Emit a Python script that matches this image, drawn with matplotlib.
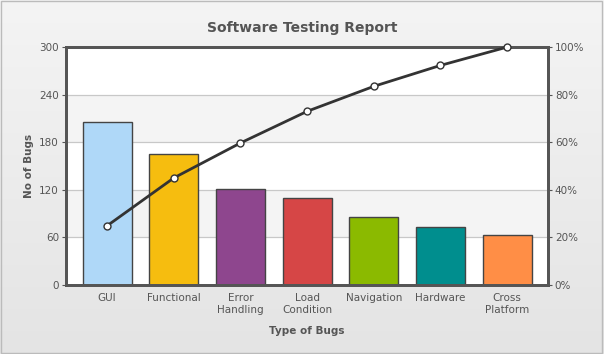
import numpy as np
import matplotlib
matplotlib.use("Agg")
import matplotlib.pyplot as plt
from matplotlib.patches import Rectangle

# Datos del gráfico
categorias = ["GUI", "Functional", "Error\nHandling", "Load\nCondition",
              "Navigation", "Hardware", "Cross\nPlatform"]
bugs = [205, 165, 121, 110, 86, 73, 63]
acumulado_pct = [24.9, 45.0, 59.7, 73.0, 83.5, 92.3, 100.0]
colores = ["#afd8f8", "#f6bd0f", "#8e468e", "#d64646",
           "#8bba00", "#008e8e", "#ff8e46"]
ticks_izq = [0, 60, 120, 180, 240, 300]
ticks_der = [0, 20, 40, 60, 80, 100]

texto = "#555555"
plt.rcParams["font.family"] = "DejaVu Sans"

fig = plt.figure(figsize=(6.04, 3.54), dpi=100)

# fondo con degradado gris
bg = fig.add_axes([0, 0, 1, 1], zorder=-10)
grad = np.linspace(0, 1, 256).reshape(-1, 1)
bg.imshow(grad, aspect="auto", cmap=matplotlib.colors.LinearSegmentedColormap.from_list(
    "g", ["#f4f4f4", "#e4e4e4"]), extent=[0, 1, 0, 1], origin="upper")
bg.add_patch(Rectangle((0.002, 0.003), 0.995, 0.993, fill=False,
                       edgecolor="#bbbbbb", linewidth=1, transform=bg.transAxes))
bg.set_axis_off()

ax = fig.add_axes([0.109, 0.195, 0.798, 0.672])
ax.set_facecolor("white")
x = np.arange(len(categorias))

# bandas alternas
for i in range(len(ticks_izq) - 1):
    c = "white" if i % 2 == 0 else "#f4f4f4"
    ax.axhspan(ticks_izq[i], ticks_izq[i + 1], color=c, zorder=0, linewidth=0)
for t in ticks_izq[1:-1]:
    ax.axhline(t, color="#c8c8c8", linewidth=0.9, zorder=1)

ax.bar(x, bugs, width=0.735, color=colores, edgecolor="#444444",
       linewidth=1, zorder=2)
ax.set_xlim(-0.62, len(categorias) - 1 + 0.61)
ax.set_ylim(0, 300)
ax.set_yticks(ticks_izq)
ax.set_xticks(x)
ax.set_xticklabels(categorias, fontsize=7.5, color=texto, linespacing=1.2)
ax.tick_params(axis="y", labelsize=7.5, labelcolor=texto, length=3,
               color="#555555", pad=2)
ax.tick_params(axis="x", length=0, pad=6)
ax.set_ylabel("No of Bugs", fontsize=7.5, fontweight="bold", color=texto, labelpad=4)
ax.set_xlabel("Type of Bugs", fontsize=7.5, fontweight="bold", color=texto, labelpad=8)
for s in ax.spines.values():
    s.set_color("#555555")
    s.set_linewidth(2)

ax2 = ax.twinx()
ax2.plot(x, acumulado_pct, color="#333333", linewidth=2, marker="o",
         markersize=5, markerfacecolor="white", markeredgecolor="#333333",
         markeredgewidth=1, zorder=5, clip_on=False)
ax2.set_ylim(0, 100)
ax2.set_yticks(ticks_der)
ax2.set_yticklabels([f"{t}%" for t in ticks_der])
ax2.tick_params(axis="y", labelsize=7.5, labelcolor=texto, length=3,
                color="#555555", pad=2)
for s in ax2.spines.values():
    s.set_color("#555555")
    s.set_linewidth(2)

fig.text(0.5, 0.922, "Software Testing Report", ha="center", va="center",
         fontsize=10, fontweight="bold", color=texto)

fig.savefig("out.png", dpi=100)
